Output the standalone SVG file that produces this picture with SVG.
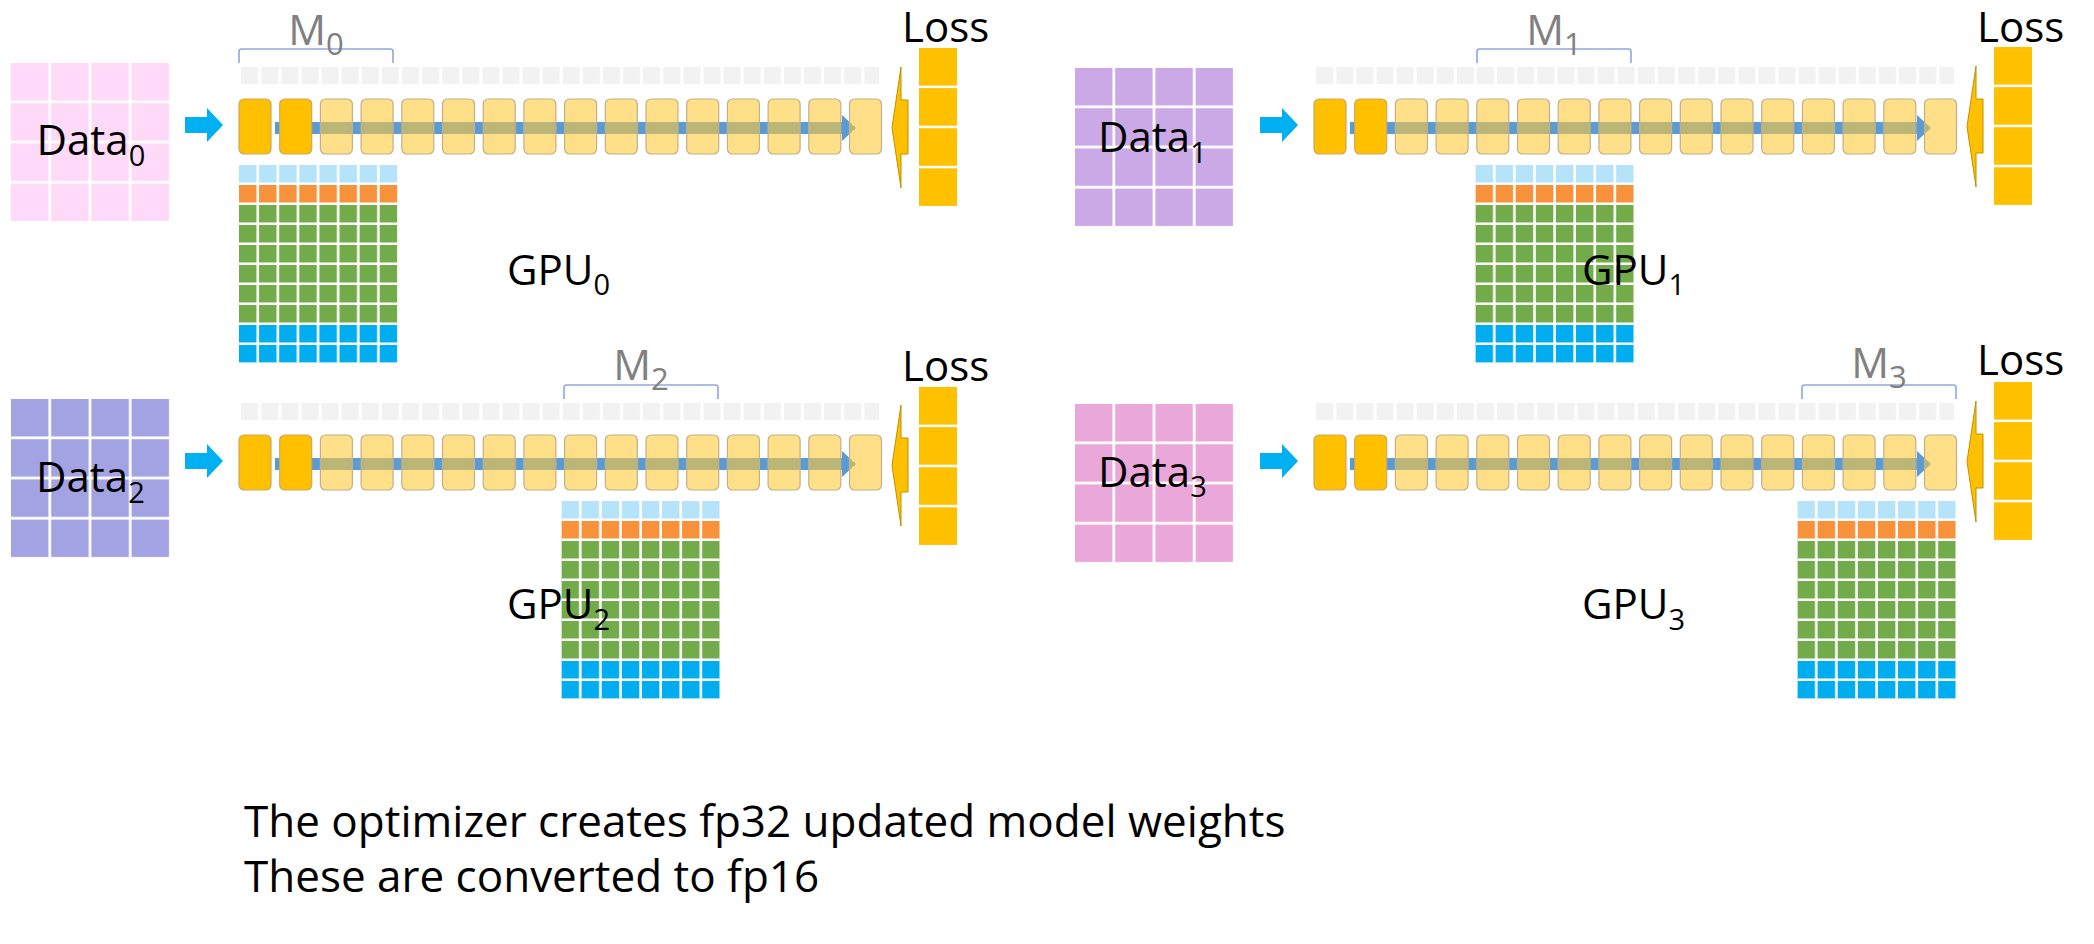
<svg xmlns="http://www.w3.org/2000/svg" xmlns:xlink="http://www.w3.org/1999/xlink" width="2094" height="944" viewBox="0 0 2094 944">
<style>
  text{font-family:"Open Sans","Liberation Sans",sans-serif;}
  .lbl{font-size:42px;fill:#000}
  .sub{font-size:29px}
  .m{font-size:42px;fill:#808080}
  .msub{font-size:31px}
  .note{font-size:44px;fill:#000}
  .dk{fill:#FFC000;stroke:#C9A962;stroke-width:1.2}
  .lt{fill:#FFC835;fill-opacity:0.59;stroke:#C2B088;stroke-width:1.2}
  .sq{fill:#F2F2F2}
  .brk{fill:none;stroke:#8EA9DB;stroke-width:1.6}
  .fwd{fill:#5B9BD5}
  .inp{fill:#00B0F0}
  .back{fill:#FFC000;stroke:#BF9000;stroke-width:1}
  .loss{fill:#FFC000}
</style>
<defs>
  <pattern id="sqp" patternUnits="userSpaceOnUse" x="0" y="0" width="20.1" height="17"><rect width="17" height="17" class="sq"/></pattern>
  <pattern id="gl" patternUnits="userSpaceOnUse" x="0" y="0" width="20.1" height="20"><rect x="17.5" y="0" width="2.6" height="20" fill="#fff"/><rect x="0" y="17.5" width="20.1" height="2.5" fill="#fff"/></pattern>
  <pattern id="dl" patternUnits="userSpaceOnUse" x="0" y="0" width="40.2" height="40.2"><rect x="37.5" y="0" width="2.7" height="40.2" fill="#fff"/><rect x="0" y="37.5" width="40.2" height="2.7" fill="#fff"/></pattern>
  <g id="paramrow"><rect x="239" y="67" width="640.1" height="17" fill="url(#sqp)"/></g>
  <g id="stack">
    <rect class="dk" x="239" y="99" width="32" height="55" rx="5"/>
    <rect class="dk" x="279.7" y="99" width="32" height="55" rx="5"/>
    <rect class="lt" x="320.4" y="99" width="32" height="55" rx="5"/>
    <rect class="lt" x="361.1" y="99" width="32" height="55" rx="5"/>
    <rect class="lt" x="401.8" y="99" width="32" height="55" rx="5"/>
    <rect class="lt" x="442.5" y="99" width="32" height="55" rx="5"/>
    <rect class="lt" x="483.2" y="99" width="32" height="55" rx="5"/>
    <rect class="lt" x="523.9" y="99" width="32" height="55" rx="5"/>
    <rect class="lt" x="564.6" y="99" width="32" height="55" rx="5"/>
    <rect class="lt" x="605.3" y="99" width="32" height="55" rx="5"/>
    <rect class="lt" x="646" y="99" width="32" height="55" rx="5"/>
    <rect class="lt" x="686.7" y="99" width="32" height="55" rx="5"/>
    <rect class="lt" x="727.4" y="99" width="32" height="55" rx="5"/>
    <rect class="lt" x="768.1" y="99" width="32" height="55" rx="5"/>
    <rect class="lt" x="808.8" y="99" width="32" height="55" rx="5"/>
    <rect class="lt" x="849.5" y="99" width="32" height="55" rx="5"/>
  </g>
  <g id="gpugrid">
    <rect x="0" y="0" width="158.2" height="20" fill="#B5E3FA"/>
    <rect x="0" y="20" width="158.2" height="20" fill="#F7923A"/>
    <rect x="0" y="40" width="158.2" height="120" fill="#72AB49"/>
    <rect x="0" y="160" width="158.2" height="37.5" fill="#00AEEF"/>
    <rect x="0" y="0" width="158.2" height="197.5" fill="url(#gl)"/>
  </g>
  <g id="losscol">
    <rect class="loss" x="919" y="48" width="38" height="37.6"/>
    <rect class="loss" x="919" y="88.1" width="38" height="37.6"/>
    <rect class="loss" x="919" y="128.2" width="38" height="37.6"/>
    <rect class="loss" x="919" y="168.3" width="38" height="37.6"/>
  </g>
  <path id="inarrow" class="inp" d="M185,117H207V108L223,125L207,142V133H185Z"/>
  <g id="fwdarrow"><rect class="fwd" x="275" y="122" width="567" height="12"/><polygon class="fwd" points="842,115 856,128 842,141"/></g>
  <polygon id="backarrow" class="back" points="892,127.5 901,67 901,100 908,100 908,154 901,154 901,188"/>
</defs>

<g id="connectors">
  <g id="conn-gpu0">
    <use xlink:href="#inarrow" href="#inarrow"/>
    <use xlink:href="#fwdarrow" href="#fwdarrow"/>
    <use xlink:href="#backarrow" href="#backarrow"/>
  </g>
  <g id="conn-gpu1" transform="translate(1075,0)">
    <use xlink:href="#inarrow" href="#inarrow"/>
    <use xlink:href="#fwdarrow" href="#fwdarrow"/>
    <use xlink:href="#backarrow" href="#backarrow" transform="translate(0,-1)"/>
  </g>
  <g id="conn-gpu2" transform="translate(0,336)">
    <use xlink:href="#inarrow" href="#inarrow"/>
    <use xlink:href="#fwdarrow" href="#fwdarrow"/>
    <use xlink:href="#backarrow" href="#backarrow" transform="translate(0,2)"/>
  </g>
  <g id="conn-gpu3" transform="translate(1075,336)">
    <use xlink:href="#inarrow" href="#inarrow"/>
    <use xlink:href="#fwdarrow" href="#fwdarrow"/>
    <use xlink:href="#backarrow" href="#backarrow" transform="translate(0,-2)"/>
  </g>
</g>

<!-- Panel 0 -->
<g id="panel0">
  <g id="data0" transform="translate(11,63)">
    <rect width="158.1" height="158.1" fill="#FFD9F8"/>
    <rect width="158.1" height="158.1" fill="url(#dl)"/>
    <text x="25.5" y="92" class="lbl">Data<tspan class="sub" dy="11">0</tspan></text>
  </g>
  <g id="params0"><use xlink:href="#paramrow" href="#paramrow"/></g>
  <g id="m0">
    <path class="brk" d="M239,63V51.5Q239,49 241.5,49H390.5Q393,49 393,51.5V63"/>
    <text x="316" y="45" class="m" text-anchor="middle">M<tspan class="msub" dy="10">0</tspan></text>
  </g>
  <g id="layers0"><use xlink:href="#stack" href="#stack"/></g>
  <g id="grid0" transform="translate(239,165)"><use xlink:href="#gpugrid" href="#gpugrid"/></g>
  <g id="loss0">
    <use xlink:href="#losscol" href="#losscol"/>
    <text x="902" y="42" class="lbl">Loss</text>
  </g>
  <g id="gpu0-label"><text x="507" y="285" class="lbl">GPU<tspan class="sub" dy="10">0</tspan></text></g>
</g>

<!-- Panel 1 -->
<g id="panel1" transform="translate(1075,0)">
  <g id="data1" transform="translate(0,68)">
    <rect width="158.1" height="158.1" fill="#CAA9E6"/>
    <rect width="158.1" height="158.1" fill="url(#dl)"/>
    <text x="23" y="84" class="lbl">Data<tspan class="sub" dy="11">1</tspan></text>
  </g>
  <g id="params1"><use xlink:href="#paramrow" href="#paramrow"/></g>
  <g id="m1">
    <path class="brk" d="M402,63V51.5Q402,49 404.5,49H553.5Q556,49 556,51.5V63"/>
    <text x="479" y="45" class="m" text-anchor="middle">M<tspan class="msub" dy="10">1</tspan></text>
  </g>
  <g id="layers1"><use xlink:href="#stack" href="#stack"/></g>
  <g id="grid1" transform="translate(400.5,165)"><use xlink:href="#gpugrid" href="#gpugrid"/></g>
  <g id="loss1" transform="translate(0,-1)">
    <use xlink:href="#losscol" href="#losscol"/>
    <text x="902" y="43" class="lbl">Loss</text>
  </g>
  <g id="gpu1-label"><text x="507" y="285" class="lbl">GPU<tspan class="sub" dy="10">1</tspan></text></g>
</g>

<!-- Panel 2 -->
<g id="panel2" transform="translate(0,336)">
  <g id="data2" transform="translate(11,63)">
    <rect width="158.1" height="158.1" fill="#A3A3E3"/>
    <rect width="158.1" height="158.1" fill="url(#dl)"/>
    <text x="25" y="93" class="lbl">Data<tspan class="sub" dy="11">2</tspan></text>
  </g>
  <g id="params2"><use xlink:href="#paramrow" href="#paramrow"/></g>
  <g id="m2">
    <path class="brk" d="M564,63V51.5Q564,49 566.5,49H715.5Q718,49 718,51.5V63"/>
    <text x="641" y="44" class="m" text-anchor="middle">M<tspan class="msub" dy="10">2</tspan></text>
  </g>
  <g id="layers2"><use xlink:href="#stack" href="#stack"/></g>
  <g id="grid2" transform="translate(561.5,165)"><use xlink:href="#gpugrid" href="#gpugrid"/></g>
  <g id="loss2" transform="translate(0,3)">
    <use xlink:href="#losscol" href="#losscol"/>
    <text x="902" y="42" class="lbl">Loss</text>
  </g>
  <g id="gpu2-label"><text x="507" y="283" class="lbl">GPU<tspan class="sub" dy="11">2</tspan></text></g>
</g>

<!-- Panel 3 -->
<g id="panel3" transform="translate(1075,336)">
  <g id="data3" transform="translate(0,68)">
    <rect width="158.1" height="158.1" fill="#EAA8DA"/>
    <rect width="158.1" height="158.1" fill="url(#dl)"/>
    <text x="23" y="83" class="lbl">Data<tspan class="sub" dy="10">3</tspan></text>
  </g>
  <g id="params3"><use xlink:href="#paramrow" href="#paramrow"/></g>
  <g id="m3">
    <path class="brk" d="M727,63V51.5Q727,49 729.5,49H878.5Q881,49 881,51.5V63"/>
    <text x="804" y="42" class="m" text-anchor="middle">M<tspan class="msub" dy="10">3</tspan></text>
  </g>
  <g id="layers3"><use xlink:href="#stack" href="#stack"/></g>
  <g id="grid3" transform="translate(722.5,165)"><use xlink:href="#gpugrid" href="#gpugrid"/></g>
  <g id="loss3" transform="translate(0,-2)">
    <use xlink:href="#losscol" href="#losscol"/>
    <text x="902" y="41" class="lbl">Loss</text>
  </g>
  <g id="gpu3-label"><text x="507" y="283" class="lbl">GPU<tspan class="sub" dy="11">3</tspan></text></g>
</g>

<g id="notes">
  <text x="244" y="837" class="note">The optimizer creates fp32 updated model weights</text>
  <text x="244" y="892" class="note">These are converted to fp16</text>
</g>
</svg>
